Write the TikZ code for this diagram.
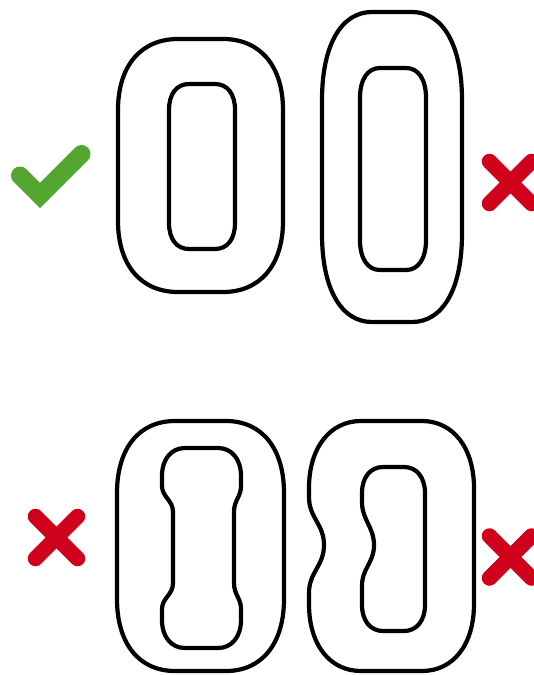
\documentclass[tikz,border=0pt]{standalone}
\usetikzlibrary{calc}
\definecolor{okgreen}{HTML}{55A630}
\definecolor{badred}{HTML}{D0021B}
\def\ckappa{0.62}
\newcommand\rrpath[6]{%
 ({#1+#5},#2) -- ({#3-#5},#2) .. controls ({#3-#5+\ckappa*#5},#2) and (#3,{#2+#6-\ckappa*#6}) .. (#3,{#2+#6})
 -- (#3,{#4-#6}) .. controls (#3,{#4-#6+\ckappa*#6}) and ({#3-#5+\ckappa*#5},#4) .. ({#3-#5},#4)
 -- ({#1+#5},#4) .. controls ({#1+#5-\ckappa*#5},#4) and (#1,{#4-#6+\ckappa*#6}) .. (#1,{#4-#6})
 -- (#1,{#2+#6}) .. controls (#1,{#2+#6-\ckappa*#6}) and ({#1+#5-\ckappa*#5},#2) .. ({#1+#5},#2) -- cycle}
\tikzset{
  outline/.style={draw=black, line width=4.2pt, line join=round},
  checkmark/.style={draw=okgreen, line width=18pt, line cap=round, line join=miter},
  crossarm/.style={draw=badred, line width=15.5pt, line cap=round},
}
\newcommand\crossmark[2]{%
  \draw[crossarm] ({#1-21},{#2-21}) -- ({#1+21},{#2+21});
  \draw[crossarm] ({#1-21},{#2+21}) -- ({#1+21},{#2-21});}
\begin{document}
\begin{tikzpicture}[x=1pt,y=-1pt]
\useasboundingbox (0,0) rectangle (534,675);
% top left (good)
\draw[outline] \rrpath{118}{39}{283}{292}{60}{71};
\draw[outline] \rrpath{169}{84}{235}{249}{20}{26};
% top right (too tall)
\draw[outline] \rrpath{322}{12}{462}{322}{50}{88};
\draw[outline] \rrpath{360}{68}{426}{270}{20}{30};
% bottom left (dumbbell inner)
\draw[outline] \rrpath{117}{421}{284}{671}{58}{72};
\draw[outline] (218,448) .. controls (231.8,448) and (241,459.2) .. (241,476) -- (241,486)
  .. controls (241,497) and (234,500) .. (234,512) -- (234,583)
  .. controls (234,595) and (241,598) .. (241,609) -- (241,620)
  .. controls (241,636.8) and (231.8,648) .. (218,648) -- (185,648)
  .. controls (171.2,648) and (162,636.8) .. (162,620) -- (162,609)
  .. controls (162,598) and (173,595) .. (173,583) -- (173,512)
  .. controls (173,500) and (162,497) .. (162,486) -- (162,476)
  .. controls (162,459.2) and (171.2,448) .. (185,448) -- cycle;
% bottom right (indented)
\draw[outline] (361,421) -- (422,421) .. controls (453.2,421) and (474,448) .. (474,488) -- (474,604)
  .. controls (474,644.8) and (453.2,671) .. (422,671) -- (361,671)
  .. controls (329.8,671) and (309,644.8) .. (309,604) -- (309,593)
  .. controls (309,572) and (324,566) .. (324,545)
  .. controls (324,524) and (309,518) .. (309,497) -- (309,488)
  .. controls (309,448) and (329.8,421) .. (361,421) -- cycle;
\draw[outline] (383,467) -- (404,467) .. controls (416.6,467) and (425,477.4) .. (425,493) -- (425,605)
  .. controls (425,620.6) and (416.6,631) .. (404,631) -- (383,631)
  .. controls (370.4,631) and (362,620.6) .. (362,605) -- (362,586)
  .. controls (362,568) and (374,563) .. (374,545)
  .. controls (374,527) and (362,520) .. (362,502) -- (362,493)
  .. controls (362,477.4) and (370.4,467) .. (383,467) -- cycle;
% marks
\draw[checkmark] (20,175.5) -- (40,195.5) -- (81.5,154);
\crossmark{510.5}{182.5}
\crossmark{56.5}{537.5}
\crossmark{510.5}{557}
\end{tikzpicture}
\end{document}
